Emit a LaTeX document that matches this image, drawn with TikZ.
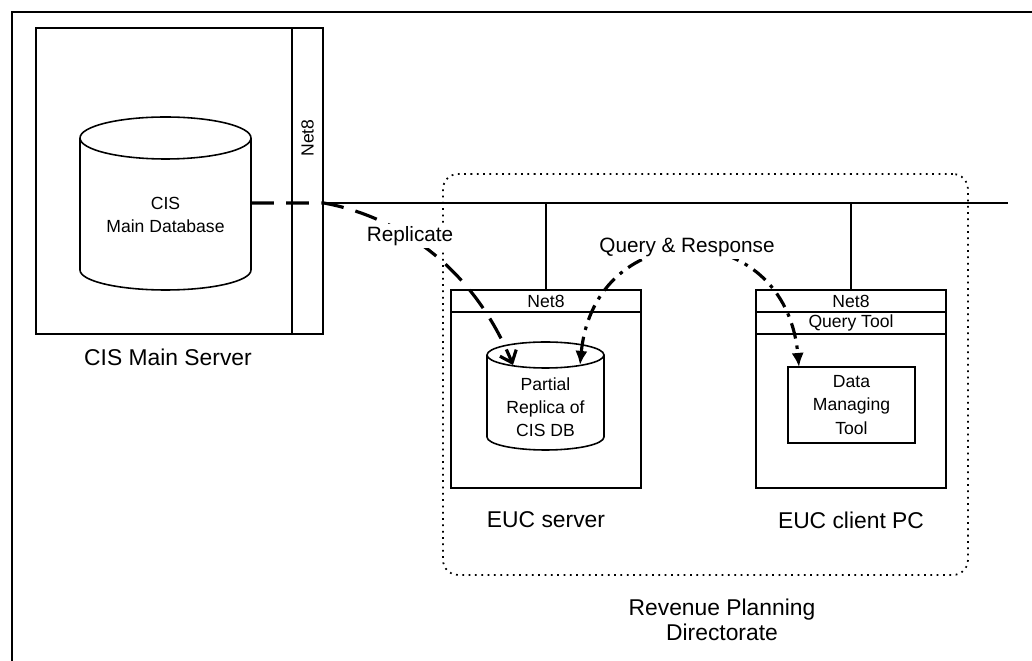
\documentclass[tikz,border=0pt]{standalone}
\usepackage{fontspec}
\setmainfont{Liberation Sans}
\usetikzlibrary{arrows.meta}
\tikzset{box/.style={draw,line width=0.9pt,inner sep=0pt},
 band/.style={box,minimum width=3.8cm,minimum height=0.44cm,font=\fontsize{10}{12}\selectfont},
 lbl/.style={font=\fontsize{13}{14.2}\selectfont,align=center},
 dbtext/.style={font=\fontsize{10}{13.2}\selectfont,align=center},
 flowlbl/.style={font=\fontsize{11.8}{14}\selectfont,fill=white,inner sep=1.5pt},
 repl/.style={line width=1.8pt,dash pattern=on 13pt off 7pt,
   -{Straight Barb[length=6pt,width=10pt]}},
 qr/.style={line width=1.8pt,dash pattern=on 9pt off 4pt on 2pt off 4pt,
   {Latex[length=8pt,width=7pt]}-{Latex[length=8pt,width=7pt]}},
 dotregion/.style={draw,line width=1pt,dash pattern=on 1pt off 2.6pt,rounded corners=0.3cm},
 }

\begin{document}
\begin{tikzpicture}[x=0.02cm,y=-0.02cm]
        \useasboundingbox (0,0) rectangle (1032,661);
        \draw[line width=0.9pt] (12,661) -- (12,12) -- (1032,12);
        \node[box,minimum width=5.74cm,minimum height=6.12cm] (cisbox) at (179.5,181) {};
        \node[box,minimum width=0.62cm,minimum height=6.12cm] (cisnet) at (307.5,181) {};
        \node[dbtext,rotate=90] (cisnetlbl) at (307.5,138) {Net8};
        \draw[box] (80,138) -- (80,270) arc[start angle=180,end angle=360,x radius=1.71cm,y radius=0.4cm] -- (251,138);
        \draw[box] (165.5,138) ellipse [x radius=1.71cm,y radius=0.42cm];
        \node[dbtext] (cisdb) at (165.5,215) {CIS\\Main Database};
        \node[lbl] (cislbl) at (168,357) {CIS Main Server};
        \node[dotregion,minimum width=10.5cm,minimum height=8.02cm] (rpd) at (705.5,374.5) {};
        \node[lbl] (rpdlbl) at (722,620) {Revenue Planning\\Directorate};
        \node[box,minimum width=3.8cm,minimum height=3.96cm] (srv) at (546,389) {};
        \node[band] (srvnet) at (546,301) {Net8};
        \draw[box] (487,355) -- (487,437) arc[start angle=180,end angle=360,x radius=1.17cm,y radius=0.26cm] -- (604,355);
        \draw[box] (545.5,355) ellipse [x radius=1.17cm,y radius=0.26cm];
        \node[dbtext] (replica) at (545.5,407) {Partial\\Replica of\\CIS DB};
        \node[lbl] (srvlbl) at (546,520) {EUC server};
        \node[box,minimum width=3.8cm,minimum height=3.96cm] (pc) at (851,389) {};
        \node[band] (pcnet) at (851,301) {Net8};
        \node[band] (pcqt) at (851,323) {Query Tool};
        \node[box,dbtext,minimum width=2.54cm,minimum height=1.52cm] (dmt) at (851.5,405) {Data\\Managing\\Tool};
        \node[lbl] (pclbl) at (851,520) {EUC client PC};
        \coordinate (lanend) at (1008,203);
        \draw[line width=0.9pt] (cisnet.east |- lanend) -- (lanend);
        \draw[line width=0.9pt] (srvnet.north |- lanend) -- (srvnet.north);
        \draw[line width=0.9pt] (pcnet.north |- lanend) -- (pcnet.north);
        \coordinate (replsrc) at (251,203);
        \coordinate (repldst) at (513,365);
        \draw[repl] (replsrc) -- (cisnet.east |- replsrc) .. controls (390,215) and (470,260) .. (repldst);
        \node[flowlbl] (repllbl) at (410,236) {Replicate};
        \coordinate (qrsrc) at (580,365);
        \coordinate (qrdst) at (799,367);
        \draw[qr] (qrsrc) .. controls (595,214) and (785,214) .. (qrdst);
        \node[flowlbl] (qrlbl) at (687,247) {Query \& Response};
    \end{tikzpicture}
\end{document}
